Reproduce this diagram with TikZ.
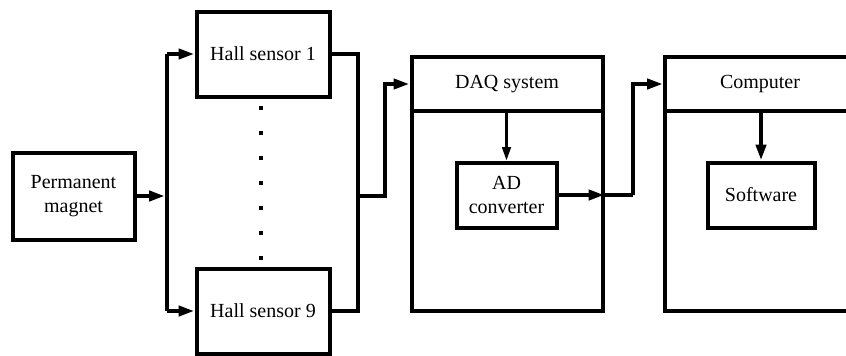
\documentclass[tikz,border=0pt]{standalone}
\usepackage{fontspec}
\setmainfont{Liberation Serif}
\newfontfamily\tnr{Liberation Serif}
\usetikzlibrary{arrows.meta}
\begin{document}
\begin{tikzpicture}[x=0.75pt,y=-0.75pt,
  box/.style={draw,line width=3pt,rectangle,inner sep=0pt,align=center,
    font=\tnr\fontsize{15}{18.5}\selectfont},
  lbl/.style={inner sep=0pt,font=\tnr\fontsize{15}{18.5}\selectfont},
  wire/.style={line width=3pt,line join=miter},
  arr/.style={wire,-{Triangle[length=12pt,width=7.5pt]}},
  thinarr/.style={line width=1.8pt,-{Triangle[length=10pt,width=6.5pt]}}]
\useasboundingbox (0,0) rectangle (846,355);
% boxes
\node[box,minimum width=91.5pt,minimum height=65.25pt] (pm) at (73.5,196) {Permanent\\magnet};
\node[box,minimum width=99.75pt,minimum height=63.75pt] (hs1) at (263,54) {Hall sensor 1};
\node[box,minimum width=99.75pt,minimum height=63.75pt] (hs9) at (263,311) {Hall sensor 9};
\node[box,minimum width=143.25pt,minimum height=190.5pt] (daq) at (507,183.5) {};
\node[lbl] (daqh) at (507,84) {DAQ system};
\node[box,minimum width=75pt,minimum height=48.75pt] (ad) at (506.5,195) {AD\\converter};
\node[box,minimum width=143.25pt,minimum height=190.5pt] (comp) at (760.5,183.5) {};
\node[lbl] (comph) at (760,84) {Computer};
\node[box,minimum width=80.25pt,minimum height=48.75pt] (sw) at (761,195) {Software};
% header lines
\coordinate (dl) at (507,111);
\coordinate (cl) at (760,111);
\draw[wire] (daq.west |- dl) -- (daq.east |- dl);
\draw[wire] (comp.west |- cl) -- (comp.east |- cl);
% dots
\foreach \k in {0,...,6} \fill (259,106+25*\k) rectangle ++(4,4);
% bus to sensors
\coordinate (b1) at (167,54);
\coordinate (b9) at (167,311);
\coordinate (bm) at (165,196);
\draw[arr] (pm.east) -- (bm);
\draw[wire] (b1) -- (b9);
\draw[arr] (b1) -- (hs1.west);
\draw[arr] (b9) -- (hs9.west);
% sensors to DAQ
\coordinate (o1) at (358,54);
\coordinate (o9) at (358,311);
\coordinate (om) at (358,196);
\coordinate (r1) at (385,196);
\draw[wire] (hs1.east) -- (o1) -- (o9) -- (hs9.east);
\draw[arr] (om) -- (r1) |- (daq.west |- daqh);
% inside DAQ
\draw[thinarr] (ad.north |- dl) -- (ad.north);
\draw[arr] (ad.east) -- (daq.east |- ad.east);
% DAQ to computer
\coordinate (r2) at (633,195);
\draw[wire] (daq.east |- ad.east) -- (r2);
\draw[arr] (r2) |- (comp.west |- comph);
% inside computer
\draw[arr] (sw.north |- cl) -- (sw.north);
\end{tikzpicture}
\end{document}
